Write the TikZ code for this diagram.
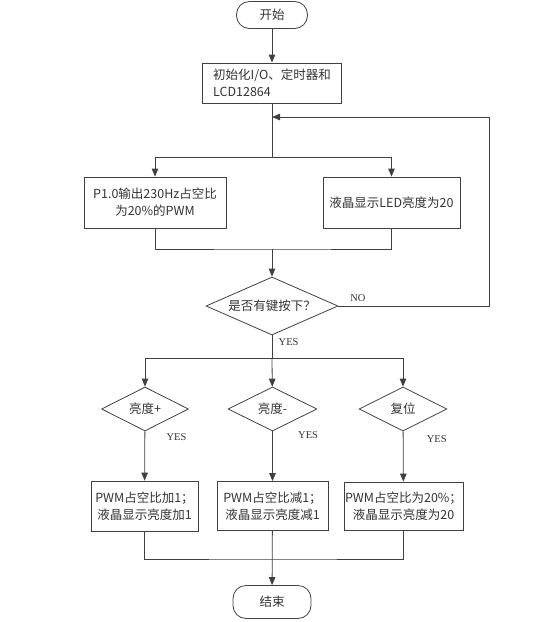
\documentclass[tikz,border=0pt]{standalone}
\usepackage{fontspec}
\setmainfont{Liberation Serif}
\newfontfamily\cjk{Noto Sans CJK SC}
\usetikzlibrary{shapes.geometric,arrows.meta}

\begin{document}
\begin{tikzpicture}[x=1pt,y=-1pt,line width=0.8pt,color=black!75,
    >={Triangle[length=8pt,width=6.5pt]},
    box/.style={draw,rectangle,align=center,inner sep=1pt,text=black!80,font=\cjk\fontsize{12.5}{17}\selectfont},
    ends/.style={draw,rectangle,rounded corners=13pt,text=black!80,font=\cjk\fontsize{12.5}{16}\selectfont},
    test/.style={draw,diamond,inner sep=0pt,aspect=2,text=black!80,font=\cjk\fontsize{12.5}{16}\selectfont},
    yes/.style={text=black!80,font=\fontsize{10.5}{12}\selectfont}]
    \useasboundingbox (0,0) rectangle (556,622);
    % start and init
    \node[ends,minimum width=71pt,minimum height=27pt] (start) at (272,15) {开始};
    \node[box,align=left,minimum width=139pt,minimum height=40pt] (init) at (272,83) {初始化I/O、定时器和\\LCD12864};
    \coordinate (loop) at (272,117);
    \coordinate (split1) at (272,157);
    \coordinate (merge1) at (272,249);
    \node[box,minimum width=142pt,minimum height=51pt] (pwm) at (155,202.5) {P1.0输出230Hz占空比\\为20\%的PWM};
    \node[box,minimum width=137pt,minimum height=51pt] (lcd) at (391.5,202.5) {液晶显示LED亮度为20};
    % key test
    \node[test,minimum width=132pt,minimum height=58pt] (key) at (272,306) {是否有键按下？};
    \coordinate (back) at (489,306);
    \coordinate (split2) at (272,358);
    \node[test,minimum width=87pt,minimum height=44pt] (inc) at (145,409) {亮度+};
    \node[test,minimum width=89pt,minimum height=44pt] (dec) at (272.5,409) {亮度-};
    \node[test,minimum width=88pt,minimum height=44pt] (rst) at (403,409) {复位};
    \node[box,minimum width=107pt,minimum height=50pt] (incbox) at (144.5,506) {PWM占空比加1；\\液晶显示亮度加1};
    \node[box,minimum width=111pt,minimum height=49pt] (decbox) at (272.5,506) {PWM占空比减1；\\液晶显示亮度减1};
    \node[box,minimum width=115pt,minimum height=48pt] (rstbox) at (403.5,506) {PWM占空比为20\%；\\液晶显示亮度为20};
    \coordinate (merge2) at (272,559);
    \node[ends,minimum width=78pt,minimum height=33pt] (end) at (272,602) {结束};

    \draw[->] (start) -- (init);
    \draw (init) -- (split1);
    \draw[->] (split1) -| (pwm);
    \draw[->] (split1) -| (lcd);
    \draw (pwm) |- (merge1) -| (lcd);
    \draw[->] (merge1) -- (key);
    \draw[->] (key) -- node[yes,pos=0.13,above=1pt] {NO} (back) |- (loop);
    \draw (key) -- node[yes,pos=0.3,right=3pt] {YES} (split2);
    \draw[->] (split2) -| (inc);
    \draw[->] (split2) -- (dec);
    \draw[->] (split2) -| (rst);
    \draw[->] (inc) -- node[yes,pos=0.12,right=18pt] {YES} (incbox);
    \draw[->] (dec) -- node[yes,pos=0.08,right=22pt] {YES} (decbox);
    \draw[->] (rst) -- node[yes,pos=0.16,right=20pt] {YES} (rstbox);
    \draw (incbox) |- (merge2) -| (rstbox);
    \draw[->] (decbox) -- (end);
\end{tikzpicture}
\end{document}
